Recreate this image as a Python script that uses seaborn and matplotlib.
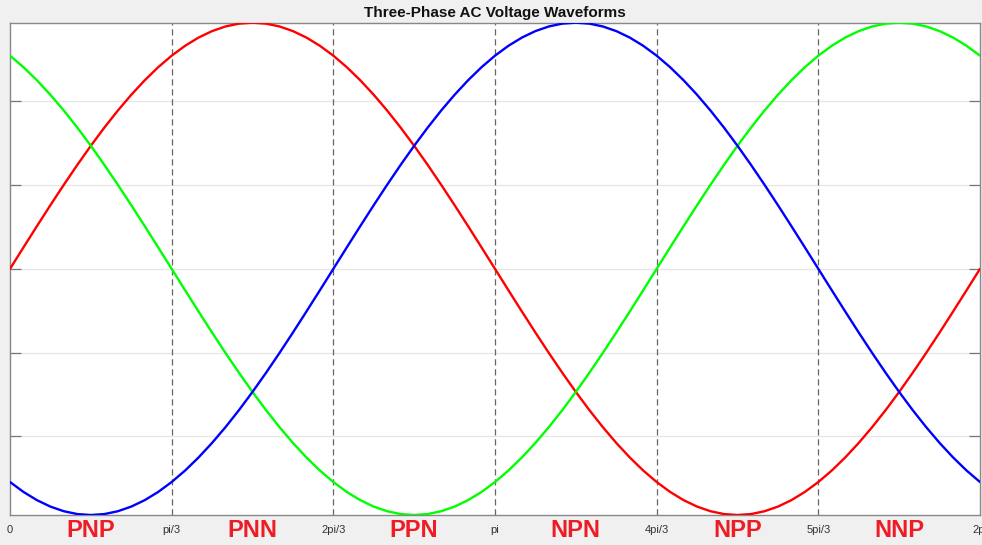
import numpy as np
import pandas as pd
import matplotlib
matplotlib.use("Agg")
import matplotlib.pyplot as plt
import seaborn as sns

# Sample angles (degrees) over one full electrical cycle
angle_deg = [0, 5, 10, 15, 20, 25, 30, 35, 40, 45, 50, 55, 60, 65, 70, 75, 80, 85, 90,
             95, 100, 105, 110, 115, 120, 125, 130, 135, 140, 145, 150, 155, 160, 165, 170, 175, 180,
             185, 190, 195, 200, 205, 210, 215, 220, 225, 230, 235, 240, 245, 250, 255, 260, 265, 270,
             275, 280, 285, 290, 295, 300, 305, 310, 315, 320, 325, 330, 335, 340, 345, 350, 355, 360]

# Phase voltages (per unit)
phase_a = [0.0, 0.0872, 0.1736, 0.2588, 0.3420, 0.4226, 0.5, 0.5736, 0.6428, 0.7071, 0.7660, 0.8192,
           0.8660, 0.9063, 0.9397, 0.9659, 0.9848, 0.9962, 1.0,
           0.9962, 0.9848, 0.9659, 0.9397, 0.9063, 0.8660, 0.8192, 0.7660, 0.7071, 0.6428, 0.5736,
           0.5, 0.4226, 0.3420, 0.2588, 0.1736, 0.0872, 0.0,
           -0.0872, -0.1736, -0.2588, -0.3420, -0.4226, -0.5, -0.5736, -0.6428, -0.7071, -0.7660,
           -0.8192, -0.8660, -0.9063, -0.9397, -0.9659, -0.9848, -0.9962, -1.0,
           -0.9962, -0.9848, -0.9659, -0.9397, -0.9063, -0.8660, -0.8192, -0.7660, -0.7071, -0.6428,
           -0.5736, -0.5, -0.4226, -0.3420, -0.2588, -0.1736, -0.0872, 0.0]

phase_b = [-0.8660, -0.9063, -0.9397, -0.9659, -0.9848, -0.9962, -1.0,
           -0.9962, -0.9848, -0.9659, -0.9397, -0.9063, -0.8660, -0.8192, -0.7660, -0.7071, -0.6428,
           -0.5736, -0.5, -0.4226, -0.3420, -0.2588, -0.1736, -0.0872,
           0.0, 0.0872, 0.1736, 0.2588, 0.3420, 0.4226, 0.5, 0.5736, 0.6428, 0.7071, 0.7660, 0.8192,
           0.8660, 0.9063, 0.9397, 0.9659, 0.9848, 0.9962, 1.0,
           0.9962, 0.9848, 0.9659, 0.9397, 0.9063, 0.8660, 0.8192, 0.7660, 0.7071, 0.6428, 0.5736,
           0.5, 0.4226, 0.3420, 0.2588, 0.1736, 0.0872, 0.0,
           -0.0872, -0.1736, -0.2588, -0.3420, -0.4226, -0.5, -0.5736, -0.6428, -0.7071, -0.7660,
           -0.8192, -0.8660]

phase_c = [0.8660, 0.8192, 0.7660, 0.7071, 0.6428, 0.5736, 0.5, 0.4226, 0.3420, 0.2588, 0.1736,
           0.0872, 0.0,
           -0.0872, -0.1736, -0.2588, -0.3420, -0.4226, -0.5, -0.5736, -0.6428, -0.7071, -0.7660,
           -0.8192, -0.8660, -0.9063, -0.9397, -0.9659, -0.9848, -0.9962, -1.0,
           -0.9962, -0.9848, -0.9659, -0.9397, -0.9063, -0.8660, -0.8192, -0.7660, -0.7071, -0.6428,
           -0.5736, -0.5, -0.4226, -0.3420, -0.2588, -0.1736, -0.0872,
           0.0, 0.0872, 0.1736, 0.2588, 0.3420, 0.4226, 0.5, 0.5736, 0.6428, 0.7071, 0.7660, 0.8192,
           0.8660, 0.9063, 0.9397, 0.9659, 0.9848, 0.9962, 1.0,
           0.9962, 0.9848, 0.9659, 0.9397, 0.9063, 0.8660]

tick_labels = ["0", "pi/3", "2pi/3", "pi", "4pi/3", "5pi/3", "2pi"]
sector_labels = ["PNP", "PNN", "PPN", "NPN", "NPP", "NNP"]

phase_colors = {"A": "#ff0000", "C": "#00ff00", "B": "#0000ff"}

sns.set_style("white")
plt.rcParams["font.family"] = ["Liberation Sans", "DejaVu Sans"]

theta = np.deg2rad(angle_deg)
df = pd.concat([
    pd.DataFrame({"theta": theta, "v": phase_a, "phase": "A"}),
    pd.DataFrame({"theta": theta, "v": phase_c, "phase": "C"}),
    pd.DataFrame({"theta": theta, "v": phase_b, "phase": "B"}),
])

fig = plt.figure(figsize=(9.82, 5.45), dpi=100, facecolor="#f0f0f0")
ax = fig.add_axes([10 / 982, 1 - 515 / 545, 970 / 982, (515 - 22.7) / 545])
ax.set_facecolor("white")

# Light horizontal reference lines
yt = [-0.68, -0.34, 0.0, 0.34, 0.68]
for y in yt:
    ax.axhline(y, color="#e6e6e6", lw=0.9, zorder=0)

# Sector boundaries every 60 degrees
tick_pos = np.arange(7) * np.pi / 3
for x in tick_pos[1:-1]:
    ax.axvline(x, color="#666666", lw=0.9, ls=(0, (5, 3)), zorder=1)

sns.lineplot(data=df, x="theta", y="v", hue="phase", palette=phase_colors,
             linewidth=1.7, legend=False, ax=ax, sort=False, estimator=None, zorder=3)

ax.set_xlim(0, 2 * np.pi)
ax.set_ylim(-1, 1)
ax.set_xticks(tick_pos)
ax.set_xticklabels(tick_labels)
ax.set_yticks(yt)
ax.set_xlabel("")
ax.set_ylabel("")
ax.tick_params(axis="y", direction="in", length=8, width=0.9, color="#777777",
               left=True, right=True, labelleft=False)
ax.tick_params(axis="x", direction="in", length=0, pad=7, labelsize=8, labelcolor="#333333")

for sp in ax.spines.values():
    sp.set_color("#888888")
    sp.set_linewidth(1.0)

ax.set_title("Three-Phase AC Voltage Waveforms", fontsize=11, fontweight="bold",
             color="#111111", pad=4)

# Switching-state labels centred in each sector
for k, lab in enumerate(sector_labels):
    ax.text((k + 0.5) * np.pi / 3, -0.031, lab, transform=ax.get_xaxis_transform(),
            ha="center", va="center", fontsize=17, fontweight="bold", color="#ee1c25")

fig.savefig("out.png", dpi=100, facecolor=fig.get_facecolor())
